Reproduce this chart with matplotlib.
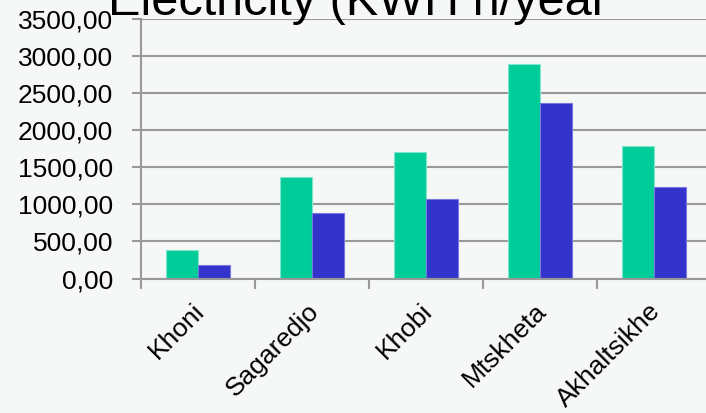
import matplotlib
matplotlib.use("Agg")
import matplotlib.pyplot as plt
from matplotlib.ticker import FuncFormatter, FixedLocator
from matplotlib.transforms import ScaledTranslation
import numpy as np

categories = ["Khoni", "Sagaredjo", "Khobi", "Mtskheta", "Akhaltsikhe"]
series_green = [390, 1370, 1710, 2890, 1790]
series_blue = [185, 890, 1075, 2370, 1235]
y_ticks = [0, 500, 1000, 1500, 2000, 2500, 3000, 3500]
title = "Electricity (KWH h/year"

plt.rcParams['font.family'] = ['Liberation Sans', 'DejaVu Sans']
bg = '#F6F8F8'
grid_c = '#999999'

fig = plt.figure(figsize=(7.06, 4.13), dpi=100, facecolor=bg)
ax = fig.add_axes([141/706, 134.5/413, 570/706, 259.2/413], facecolor=bg)

x = np.arange(len(categories))
w = 0.285
ax.bar(x - w/2, series_green, width=w, color='#00CC99', edgecolor='#7FE6CC', linewidth=0.8, zorder=3)
ax.bar(x + w/2, series_blue, width=w, color='#3333CC', edgecolor='#7777E0', linewidth=0.8, zorder=3)

ax.set_xlim(-0.5, len(categories) - 0.5)
ax.set_ylim(0, 3500)
ax.set_yticks(y_ticks)
ax.yaxis.set_major_formatter(FuncFormatter(lambda v, p: f"{v:.2f}".replace('.', ',')))
ax.yaxis.grid(True, color=grid_c, linewidth=1.5, zorder=1)
ax.set_axisbelow(True)

for s in ['top', 'right']:
    ax.spines[s].set_visible(False)
for s in ['left', 'bottom']:
    ax.spines[s].set_color(grid_c)
    ax.spines[s].set_linewidth(1.5)
    ax.spines[s].set_zorder(4)

ax.tick_params(axis='y', length=6.5, width=1.5, color=grid_c, labelsize=19, pad=13.5)
ax.set_xticks(x)
ax.set_xticklabels(categories, rotation=45, ha='right', va='center', rotation_mode='anchor')
ax.tick_params(axis='x', which='major', length=0, labelsize=19, pad=21)
ax.xaxis.set_minor_locator(FixedLocator(np.arange(-0.5, len(categories), 1.0)))
ax.tick_params(axis='x', which='minor', length=7.2, width=1.5, color=grid_c, direction='out')

off = ScaledTranslation(3/100, 0, fig.dpi_scale_trans)
for lab in ax.get_xticklabels():
    lab.set_transform(lab.get_transform() + off)

fig.text(108/706, 398/413, title, fontsize=35, ha='left', va='baseline', color='black')

fig.savefig('out.png', dpi=100, facecolor=bg)
